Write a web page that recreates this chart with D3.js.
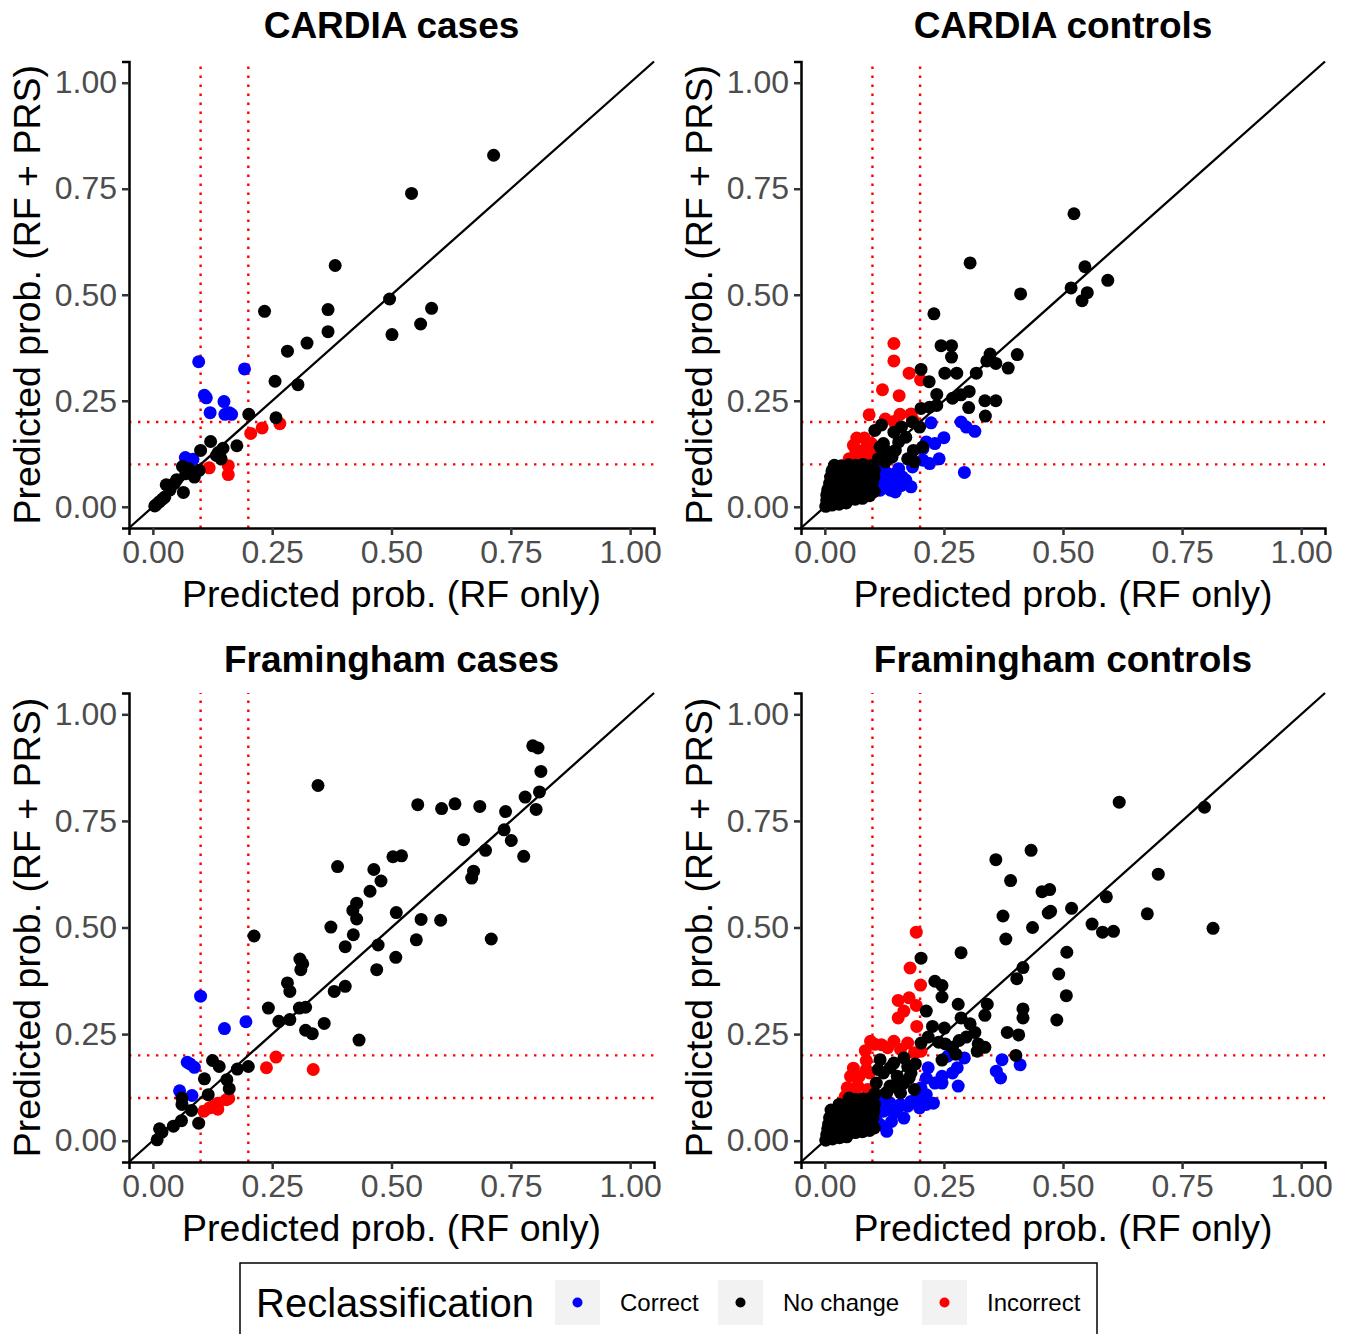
<!DOCTYPE html>
<html lang="en">
<head>
<meta charset="UTF-8">
<title>Reclassification</title>
<script src="https://d3js.org/d3.v7.min.js"></script>
<style>
  body { margin: 0; background: #fff; }
  svg text { font-family: "Liberation Sans", Arial, sans-serif; }
</style>
</head>
<body>
<svg id="chart" width="1351" height="1334"></svg>
<script>
// ---- data (x = RF only, y = RF + PRS) ----
const tickValues = [0, 0.25, 0.5, 0.75, 1];
const thresholds = [0.1, 0.2];
const panelTitles = ["CARDIA cases", "CARDIA controls", "Framingham cases", "Framingham controls"];
const legendLabels = ["Correct", "No change", "Incorrect"];

const cardiaCasesNoChange = [[0.714,0.829],[0.542,0.739],[0.382,0.569],[0.234,0.461],[0.367,0.465],[0.584,0.468],[0.496,0.490],[0.561,0.431],[0.501,0.406],[0.367,0.413],[0.323,0.386],[0.282,0.367],[0.256,0.296],[0.304,0.288],[0.201,0.218],[0.258,0.210],[0.176,0.144],[0.100,0.133],[0.121,0.154],[0.147,0.138],[0.137,0.128],[0.143,0.113],[0.133,0.121],[0.062,0.095],[0.087,0.070],[0.097,0.086],[0.069,0.078],[0.050,0.064],[0.028,0.052],[0.036,0.040],[0.064,0.034],[0.025,0.023],[0.014,0.012],[0.004,0.002],[0.075,0.090],[0.045,0.055],[0.020,0.018],[0.008,0.006]];
const cardiaCasesCorrect = [[0.096,0.342],[0.192,0.325],[0.108,0.263],[0.112,0.257],[0.120,0.222],[0.149,0.248],[0.151,0.218],[0.160,0.222],[0.165,0.218],[0.068,0.116],[0.084,0.112]];
const cardiaCasesIncorrect = [[0.205,0.173],[0.229,0.186],[0.266,0.196],[0.118,0.092],[0.158,0.097],[0.158,0.076]];

const cardiaControlsNoChange = [[0.523,0.691],[0.305,0.575],[0.546,0.566],[0.594,0.534],[0.517,0.516],[0.551,0.505],[0.540,0.486],[0.411,0.502],[0.229,0.455],[0.244,0.380],[0.266,0.380],[0.266,0.353],[0.404,0.359],[0.347,0.360],[0.340,0.344],[0.359,0.338],[0.385,0.327],[0.318,0.315],[0.252,0.315],[0.277,0.315],[0.202,0.324],[0.219,0.295],[0.235,0.265],[0.303,0.272],[0.286,0.264],[0.268,0.256],[0.336,0.250],[0.359,0.250],[0.302,0.234],[0.337,0.214],[0.202,0.232],[0.220,0.235],[0.235,0.239],[0.199,0.188],[0.184,0.200],[0.119,0.193],[0.105,0.180],[0.145,0.176],[0.170,0.164],[0.161,0.188],[0.123,0.149],[0.127,0.133],[0.116,0.141],[0.186,0.133],[0.205,0.141],[0.155,0.153],[0.148,0.133],[0.141,0.117],[0.188,0.106],[0.174,0.113],[0.127,0.106],[0.112,0.113],
  [0.002,0.001],[0.015,0.004],[0.030,0.006],[0.045,0.009],[0.004,0.015],[0.019,0.014],[0.034,0.016],[0.049,0.015],[0.064,0.018],[0.079,0.020],[0.094,0.026],
  [0.004,0.028],[0.020,0.027],[0.036,0.029],[0.051,0.027],[0.066,0.030],[0.081,0.031],[0.094,0.034],[0.104,0.036],
  [0.006,0.040],[0.023,0.041],[0.037,0.039],[0.052,0.042],[0.067,0.040],[0.082,0.042],[0.097,0.045],
  [0.010,0.055],[0.025,0.054],[0.040,0.056],[0.055,0.055],[0.070,0.057],[0.085,0.054],[0.100,0.056],
  [0.012,0.070],[0.027,0.071],[0.042,0.069],[0.057,0.072],[0.072,0.070],[0.087,0.068],[0.103,0.071],
  [0.015,0.085],[0.030,0.084],[0.045,0.086],[0.060,0.085],[0.075,0.087],[0.090,0.083],[0.104,0.086],
  [0.020,0.098],[0.035,0.097],[0.050,0.099],[0.065,0.098],[0.080,0.100],[0.095,0.097]];
const cardiaControlsCorrect = [[0.223,0.198],[0.286,0.200],[0.297,0.188],[0.315,0.178],[0.250,0.163],[0.231,0.149],[0.213,0.153],[0.206,0.137],[0.240,0.113],[0.220,0.102],[0.206,0.110],[0.293,0.081],[0.184,0.094],[0.116,0.086],[0.134,0.070],[0.148,0.078],[0.163,0.070],[0.148,0.035],[0.181,0.047],[0.127,0.051],[0.112,0.063],[0.141,0.055],[0.155,0.090],[0.170,0.063],[0.116,0.039],[0.138,0.039],[0.105,0.090],[0.123,0.098],[0.160,0.050],[0.130,0.080]];
const cardiaControlsIncorrect = [[0.145,0.385],[0.145,0.344],[0.177,0.315],[0.201,0.299],[0.121,0.276],[0.156,0.262],[0.093,0.217],[0.127,0.207],[0.145,0.201],[0.158,0.218],[0.181,0.219],[0.184,0.207],[0.067,0.162],[0.083,0.162],[0.098,0.149],[0.065,0.133],[0.080,0.133],[0.098,0.121],[0.051,0.113],[0.072,0.113],[0.090,0.110],[0.060,0.145],[0.088,0.140]];

const framCasesNoChange = [[0.796,0.926],[0.807,0.921],[0.813,0.866],[0.810,0.818],[0.780,0.806],[0.803,0.777],[0.346,0.833],[0.555,0.788],[0.605,0.779],[0.633,0.790],[0.685,0.784],[0.739,0.772],[0.736,0.729],[0.751,0.704],[0.651,0.706],[0.697,0.681],[0.777,0.667],[0.672,0.632],[0.668,0.616],[0.503,0.666],[0.521,0.668],[0.387,0.643],[0.463,0.636],[0.478,0.609],[0.455,0.585],[0.427,0.557],[0.419,0.540],[0.427,0.520],[0.510,0.535],[0.562,0.519],[0.603,0.517],[0.552,0.471],[0.709,0.473],[0.373,0.501],[0.420,0.483],[0.472,0.459],[0.212,0.480],[0.403,0.455],[0.509,0.430],[0.469,0.401],[0.308,0.426],[0.314,0.415],[0.310,0.401],[0.282,0.370],[0.287,0.350],[0.380,0.350],[0.403,0.362],[0.242,0.311],[0.307,0.311],[0.320,0.313],[0.264,0.280],[0.287,0.284],[0.320,0.259],[0.334,0.251],[0.359,0.275],[0.432,0.236],[0.125,0.188],[0.139,0.174],[0.177,0.168],[0.200,0.174],[0.108,0.145],[0.155,0.143],[0.160,0.122],[0.116,0.108],[0.061,0.100],[0.061,0.085],[0.081,0.071],[0.060,0.047],[0.043,0.034],[0.014,0.028],[0.019,0.020],[0.009,0.002],[0.096,0.041]];
const framCasesCorrect = [[0.100,0.339],[0.150,0.263],[0.195,0.279],[0.072,0.184],[0.078,0.180],[0.087,0.172],[0.056,0.117],[0.082,0.106]];
const framCasesIncorrect = [[0.258,0.196],[0.238,0.171],[0.336,0.167],[0.107,0.069],[0.119,0.077],[0.136,0.088],[0.136,0.074],[0.154,0.096],[0.159,0.099],[0.126,0.080]];

const framControlsNoChange = [[0.618,0.794],[0.797,0.782],[0.359,0.659],[0.433,0.681],[0.390,0.610],[0.456,0.584],[0.472,0.589],[0.700,0.625],[0.591,0.572],[0.374,0.527],[0.469,0.534],[0.474,0.538],[0.518,0.545],[0.677,0.532],[0.436,0.500],[0.561,0.508],[0.583,0.489],[0.606,0.491],[0.815,0.498],[0.380,0.473],[0.286,0.441],[0.508,0.442],[0.202,0.428],[0.416,0.406],[0.491,0.391],[0.403,0.380],[0.231,0.374],[0.246,0.364],[0.246,0.337],[0.507,0.340],[0.280,0.320],[0.341,0.320],[0.213,0.304],[0.416,0.309],[0.416,0.288],[0.336,0.294],[0.286,0.288],[0.487,0.283],[0.305,0.274],[0.226,0.268],[0.251,0.264],[0.383,0.254],[0.407,0.248],[0.315,0.254],[0.297,0.243],[0.282,0.235],[0.268,0.219],[0.275,0.203],[0.253,0.227],[0.239,0.231],[0.217,0.243],[0.202,0.229],[0.246,0.189],[0.322,0.227],[0.336,0.219],[0.320,0.210],[0.401,0.200],
  [0.116,0.190],[0.145,0.182],[0.174,0.174],[0.123,0.159],[0.152,0.151],[0.181,0.159],[0.108,0.135],[0.137,0.128],[0.166,0.135],[0.188,0.120],[0.130,0.112],[0.159,0.112],[0.112,0.167],[0.177,0.147],[0.137,0.171],[0.166,0.194],[0.105,0.110],[0.190,0.180],[0.150,0.125],
  [0.002,0.001],[0.016,0.004],[0.031,0.007],[0.046,0.009],[0.004,0.014],[0.019,0.015],[0.034,0.016],[0.049,0.017],[0.064,0.019],[0.079,0.021],[0.094,0.024],
  [0.006,0.028],[0.021,0.027],[0.036,0.029],[0.051,0.030],[0.066,0.031],[0.081,0.032],[0.096,0.034],[0.104,0.030],
  [0.008,0.039],[0.023,0.041],[0.038,0.040],[0.053,0.042],[0.068,0.041],[0.083,0.043],[0.098,0.044],
  [0.010,0.054],[0.025,0.056],[0.040,0.055],[0.055,0.053],[0.070,0.056],[0.085,0.055],[0.101,0.054],
  [0.013,0.072],[0.028,0.069],[0.043,0.071],[0.058,0.070],[0.073,0.068],[0.088,0.071],[0.103,0.069],
  [0.030,0.085],[0.045,0.084],[0.060,0.086],[0.075,0.084],[0.090,0.087],[0.104,0.085],
  [0.051,0.100],[0.065,0.097],[0.080,0.098],[0.095,0.099]];
const framControlsCorrect = [[0.258,0.198],[0.293,0.194],[0.372,0.190],[0.360,0.163],[0.369,0.147],[0.410,0.178],[0.280,0.128],[0.217,0.171],[0.246,0.151],[0.268,0.159],[0.278,0.171],[0.213,0.147],[0.231,0.135],[0.246,0.135],[0.202,0.124],[0.228,0.088],[0.213,0.085],[0.199,0.077],[0.195,0.100],[0.213,0.108],[0.116,0.092],[0.137,0.088],[0.159,0.085],[0.174,0.081],[0.123,0.069],[0.145,0.065],[0.166,0.053],[0.108,0.049],[0.130,0.022],[0.116,0.038],[0.152,0.073],[0.181,0.092],[0.100,0.070],[0.140,0.045]];
const framControlsIncorrect = [[0.192,0.489],[0.179,0.405],[0.201,0.365],[0.154,0.329],[0.177,0.335],[0.192,0.317],[0.166,0.304],[0.154,0.288],[0.193,0.268],[0.096,0.233],[0.119,0.225],[0.145,0.233],[0.174,0.229],[0.132,0.218],[0.159,0.214],[0.085,0.211],[0.188,0.206],[0.202,0.210],[0.087,0.188],[0.054,0.151],[0.072,0.151],[0.094,0.159],[0.047,0.124],[0.069,0.128],[0.090,0.120],[0.043,0.104],[0.065,0.108],[0.087,0.167],[0.105,0.226],[0.060,0.170]];

// ---- layout ----
const colors = { correct: "#0000FF", nochange: "#000000", incorrect: "#FF0000" };
const boxes = [
  { left: 129, right: 654, top: 61.5, bottom: 528, titleY: 37.5 },
  { left: 801, right: 1325, top: 61.5, bottom: 528, titleY: 37.5 },
  { left: 129, right: 654, top: 693, bottom: 1162, titleY: 671.5 },
  { left: 801, right: 1325, top: 693, bottom: 1162, titleY: 671.5 }
];
const panelData = [
  { correct: cardiaCasesCorrect, incorrect: cardiaCasesIncorrect, nochange: cardiaCasesNoChange },
  { correct: cardiaControlsCorrect, incorrect: cardiaControlsIncorrect, nochange: cardiaControlsNoChange },
  { correct: framCasesCorrect, incorrect: framCasesIncorrect, nochange: framCasesNoChange },
  { correct: framControlsCorrect, incorrect: framControlsIncorrect, nochange: framControlsNoChange }
];

const svg = d3.select("#chart");
svg.append("rect").attr("width", 1351).attr("height", 1334).attr("fill", "#fff");

boxes.forEach((b, i) => {
  const x = d3.scaleLinear().domain([-0.05, 1.05]).range([b.left, b.right]);
  const y = d3.scaleLinear().domain([-0.05, 1.05]).range([b.bottom, b.top]);
  const g = svg.append("g");

  // reference lines
  thresholds.forEach(t => {
    g.append("line").attr("x1", x(t)).attr("x2", x(t)).attr("y1", y(-0.05)).attr("y2", y(1.05))
      .attr("stroke", "red").attr("stroke-width", 2.4).attr("stroke-dasharray", "2.4,6.6");
    g.append("line").attr("x1", x(-0.05)).attr("x2", x(1.05)).attr("y1", y(t)).attr("y2", y(t))
      .attr("stroke", "red").attr("stroke-width", 2.4).attr("stroke-dasharray", "2.4,6.6");
  });
  g.append("line").attr("x1", x(-0.05)).attr("y1", y(-0.05)).attr("x2", x(1.05)).attr("y2", y(1.05))
    .attr("stroke", "#000").attr("stroke-width", 2.3);

  // points: black last
  ["correct", "incorrect", "nochange"].forEach(k => {
    g.selectAll(null).data(panelData[i][k]).enter().append("circle")
      .attr("cx", d => x(d[0])).attr("cy", d => y(d[1])).attr("r", 6.5)
      .attr("fill", colors[k]);
  });

  // axes
  const ax = svg.append("g").attr("transform", `translate(0,${b.bottom})`)
    .call(d3.axisBottom(x).tickValues(tickValues).tickFormat(d3.format(".2f")).tickSizeOuter(0).tickSize(7).tickPadding(5));
  const ay = svg.append("g").attr("transform", `translate(${b.left},0)`)
    .call(d3.axisLeft(y).tickValues(tickValues).tickFormat(d3.format(".2f")).tickSizeOuter(0).tickSize(7).tickPadding(5));
  [ax, ay].forEach(a => {
    a.select(".domain").attr("stroke", "#000").attr("stroke-width", 2.5);
    a.selectAll(".tick line").attr("stroke", "#333").attr("stroke-width", 2.5);
    a.selectAll(".tick text").attr("fill", "#4D4D4D").style("font-size", "32px");
  });

  const cx = (b.left + b.right) / 2;
  svg.append("text").attr("x", cx).attr("y", b.titleY).attr("text-anchor", "middle")
    .style("font-size", "37px").style("font-weight", "bold").text(panelTitles[i]);
  svg.append("text").attr("x", cx).attr("y", b.bottom + 79).attr("text-anchor", "middle")
    .style("font-size", "37.5px").text("Predicted prob. (RF only)");
  svg.append("text").attr("transform", `translate(${b.left - 89},${(b.top + b.bottom) / 2}) rotate(-90)`)
    .attr("text-anchor", "middle").style("font-size", "37.5px").text("Predicted prob. (RF + PRS)");
});

// ---- legend ----
const lg = svg.append("g");
lg.append("rect").attr("x", 240).attr("y", 1263).attr("width", 857).attr("height", 90)
  .attr("fill", "#fff").attr("stroke", "#000").attr("stroke-width", 1.5);
lg.append("text").attr("x", 256).attr("y", 1317).style("font-size", "40px").text("Reclassification");
const keyX = [555, 718, 922];
const keyColors = [colors.correct, colors.nochange, colors.incorrect];
legendLabels.forEach((lab, i) => {
  lg.append("rect").attr("x", keyX[i]).attr("y", 1280).attr("width", 45).attr("height", 45).attr("fill", "#F2F2F2");
  lg.append("circle").attr("cx", keyX[i] + 22.5).attr("cy", 1302.5).attr("r", 5).attr("fill", keyColors[i]);
  lg.append("text").attr("x", keyX[i] + 65).attr("y", 1311).style("font-size", "24px").text(lab);
});
</script>
</body>
</html>
